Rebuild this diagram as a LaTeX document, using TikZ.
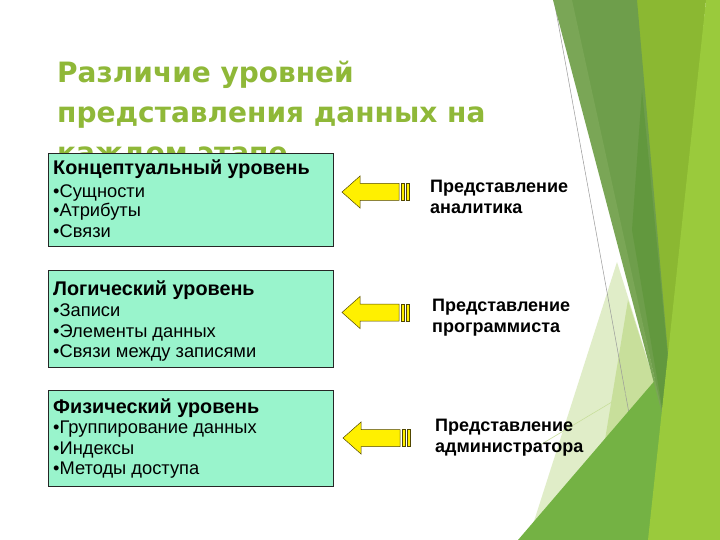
\documentclass[tikz,border=0pt]{standalone}
\usepackage{fontspec}
\setmainfont{Liberation Sans}
\newfontfamily\boxfont{Liberation Sans}
\newfontfamily\ttlfont{DejaVu Sans Bold}
\definecolor{ttlgreen}{RGB}{143,184,56}
\definecolor{boxfill}{RGB}{153,244,204}
\definecolor{ygr}{RGB}{139,184,50}
\definecolor{dgr}{RGB}{110,158,75}
\definecolor{dgl}{RGB}{122,166,86}
\definecolor{dgd}{RGB}{98,152,62}
\definecolor{brg}{RGB}{154,202,60}
\definecolor{midg}{RGB}{116,178,68}
\definecolor{palea}{RGB}{224,237,200}
\definecolor{paleb}{RGB}{200,223,155}
\definecolor{arrowfill}{RGB}{255,240,0}
\definecolor{arrowline}{RGB}{80,70,0}
\tikzset{
  boxst/.style={draw=black!85, line width=0.6pt, fill=boxfill, minimum width=285pt, inner sep=0pt},
  headst/.style={anchor=base west, inner sep=0pt, font=\boxfont\bfseries\fontsize{19.8}{22}\selectfont},
  itemst/.style={anchor=base west, inner sep=0pt, font=\boxfont\fontsize{18.3}{20}\selectfont},
  ttlst/.style={anchor=base west, inner sep=0pt, text=ttlgreen, font=\ttlfont\fontsize{28}{32}\selectfont},
  labst/.style={anchor=base west, inner sep=0pt, font=\boxfont\bfseries\fontsize{18}{20}\selectfont},
  arrowst/.style={fill=arrowfill, draw=arrowline, line width=0.5pt, line join=miter},
  pics/yarrow/.style={code={
    \filldraw[arrowst] (0,0) -- (18,-16) -- (18,-8.5) -- (57,-8.5) -- (57,8.5) -- (18,8.5) -- (18,16) -- cycle;
    \filldraw[arrowst] (59,-8.5) rectangle (62.5,8.5);
    \filldraw[arrowst] (64,-8.5) rectangle (67.5,8.5);
  }}
}
\begin{document}
\begin{tikzpicture}[x=1pt,y=-1pt]
\path[use as bounding box, fill=white] (0,0) rectangle (720,540);
% decoration on the right
\fill[ygr] (630,0) -- (706,0) -- (668,420) -- cycle;
\fill[palea] (617,262) -- (668,425) -- (645,540) -- (528,540) -- cycle;
\fill[paleb] (628,300) -- (668,425) -- (600,470) -- cycle;
\draw[black!40, line width=0.5pt] (554,0) -- (652,540);
\draw[paleb, line width=0.6pt] (540,445) -- (657,375);
\fill[midg] (518,540) -- (657,378) -- (690,340) -- (690,540) -- cycle;
\fill[dgr] (570,0) -- (637,0) -- (672,400) -- (665,425) -- cycle;
\fill[dgl] (553,0) -- (572,0) -- (665,425) -- cycle;
\fill[dgd] (642,90) -- (672,400) -- (665,425) -- (632,230) -- cycle;
\fill[brg] (706,0) -- (720,0) -- (720,540) -- (648,540) -- cycle;
% title
\node[ttlst] (t1) at (57,83) {Различие уровней};
\node[ttlst] (t2) at (57,123) {представления данных на};
\node[ttlst] (t3) at (57,163) {каждом этапе};
% boxes
\node[boxst, minimum height=93pt] (b1) at (190.5,199.5) {};
\node[boxst, minimum height=97pt] (b2) at (190.5,318.5) {};
\node[boxst, minimum height=96pt] (b3) at (190.5,438) {};
\node[headst] (h1) at (53,175) {Концептуальный уровень};
\node[itemst] (i11) at (53,197) {•Сущности};
\node[itemst] (i12) at (53,217) {•Атрибуты};
\node[itemst] (i13) at (53,237) {•Связи};
\node[headst] (h2) at (53,295) {Логический уровень};
\node[itemst] (i21) at (53,316) {•Записи};
\node[itemst] (i22) at (53,337) {•Элементы данных};
\node[itemst] (i23) at (53,357) {•Связи между записями};
\node[headst] (h3) at (53,413) {Физический уровень};
\node[itemst] (i31) at (53,433) {•Группирование данных};
\node[itemst] (i32) at (53,454) {•Индексы};
\node[itemst] (i33) at (53,474) {•Методы доступа};
% arrows
\pic at (342,192) {yarrow};
\pic at (342,312.5) {yarrow};
\pic at (343,438) {yarrow};
% labels
\node[labst] (l11) at (430,193) {Представление};
\node[labst] (l12) at (430,214) {аналитика};
\node[labst] (l21) at (432,311) {Представление};
\node[labst] (l22) at (432,332) {программиста};
\node[labst] (l31) at (435,431) {Представление};
\node[labst] (l32) at (435,452) {администратора};
\end{tikzpicture}
\end{document}
